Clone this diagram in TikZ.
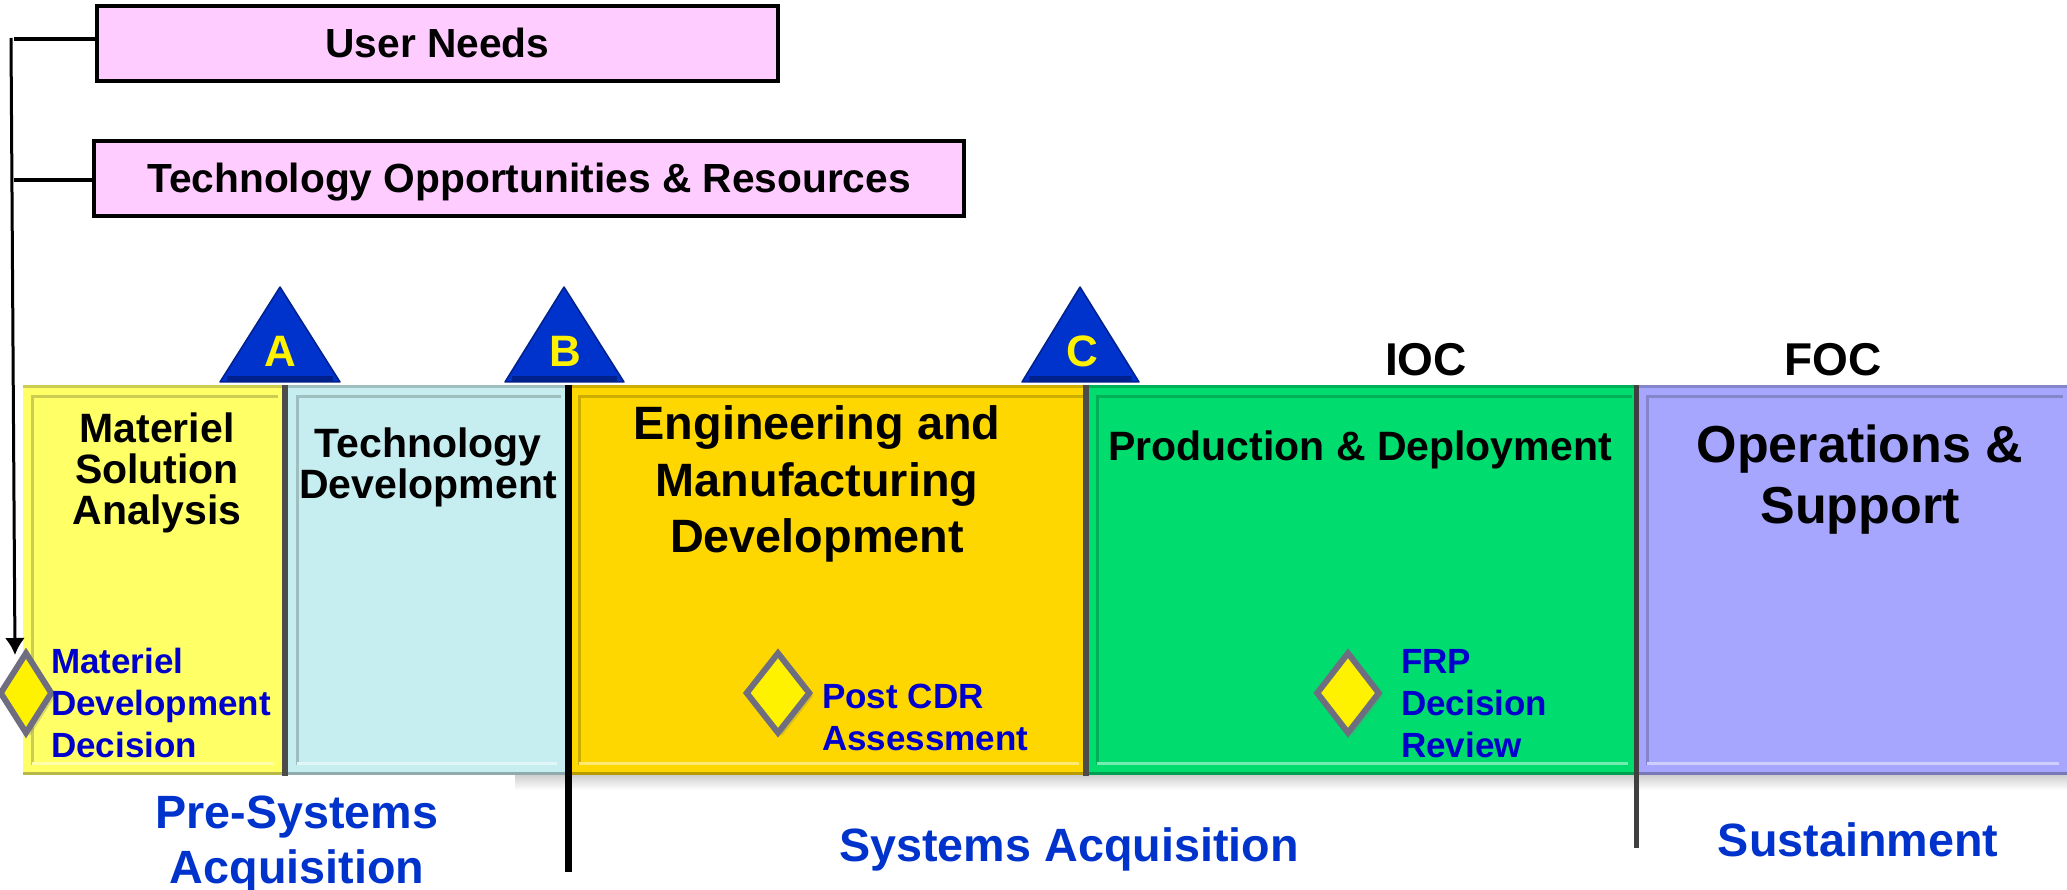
\documentclass[tikz,border=0pt]{standalone}
\usepackage{fontspec}
\setmainfont{Liberation Sans}
\usetikzlibrary{shapes.geometric,shadows,arrows.meta}
\definecolor{msaYellow}{HTML}{FFFF66}
\definecolor{tdCyan}{HTML}{C6EEF0}
\definecolor{emdGold}{HTML}{FFD700}
\definecolor{pdGreen}{HTML}{00DC6E}
\definecolor{osPurple}{HTML}{A6A6FF}
\definecolor{needPink}{HTML}{FFCCFF}
\definecolor{revBlue}{HTML}{0000CC}
\definecolor{phaseBlue}{HTML}{0033CC}
\definecolor{peakEdge}{HTML}{00208C}
\definecolor{gemEdge}{HTML}{6E6E80}
\tikzset{
    panel/.style={fill=#1,rectangle,inner sep=0pt,minimum height=388pt,
        path picture={
            \draw[#1!80!black,line width=3pt]
                ([xshift=9pt,yshift=9pt]path picture bounding box.south west) |-
                ([xshift=-4pt,yshift=-11pt]path picture bounding box.north east);
            \draw[#1!55!white,line width=3pt]
                ([xshift=9pt,yshift=11pt]path picture bounding box.south west) --
                ([xshift=-8pt,yshift=11pt]path picture bounding box.south east);
            \draw[#1!72!black,line width=5pt]
                (path picture bounding box.south west) --
                (path picture bounding box.south east);
            \draw[#1!80!black,line width=3pt]
                ([yshift=-1pt]path picture bounding box.north west) --
                ([yshift=-1pt]path picture bounding box.north east);}},
    need/.style={fill=needPink,draw=black,line width=4pt,rectangle,inner sep=0pt,minimum height=75pt,
        text height=29pt,text depth=0pt,font=\fontsize{40.7}{42}\selectfont\bfseries},
    title/.style={align=center,inner sep=0pt,font=\fontsize{#1}{#1}\selectfont\bfseries},
    review/.style={align=left,inner sep=0pt,text=revBlue,font=\fontsize{35}{42}\selectfont\bfseries},
    phase/.style={align=center,inner sep=0pt,text=phaseBlue,font=\fontsize{46.7}{55}\selectfont\bfseries},
    gem/.style={diamond,fill=yellow,draw=gemEdge,line width=6pt,inner sep=0pt,minimum height=82pt,
        drop shadow={shadow xshift=4pt,shadow yshift=-3pt,opacity=0.3}},
    letter/.style={inner sep=0pt,text=yellow,font=\fontsize{44}{44}\selectfont\bfseries},
    peak/.style={fill=phaseBlue,draw=peakEdge,line width=1.5pt,line join=round},
    gate/.style={line cap=butt,line width=#1},
    feed/.style={line width=4pt}
}
\begin{document}
\begin{tikzpicture}[x=1pt,y=-1pt]
    \useasboundingbox (0,0) rectangle (2067,890);

    \shade[top color=gray!45,bottom color=white] (515,772) rectangle (2067,790);

    \node[panel=msaYellow,minimum width=259pt] (msa) at (152.5,580) {};
    \node[panel=tdCyan,minimum width=277pt] (td) [right of=msa,node distance=274pt] {};
    \node[panel=emdGold,minimum width=517pt] (emd) [right of=td,node distance=402pt] {};
    \node[panel=pdGreen,minimum width=548pt] (pd) [right of=emd,node distance=533.5pt] {};
    \node[panel=osPurple,minimum width=429pt] (os) [right of=pd,node distance=490.5pt] {};

    \coordinate (a1) at (285,385);
    \coordinate (a2) at (285,776);
    \coordinate (b1) at (568.5,385);
    \coordinate (b2) at (568.5,872);
    \coordinate (c1) at (1086,385);
    \coordinate (c2) at (1086,776);
    \coordinate (d1) at (1636,385);
    \coordinate (d2) at (1636,848);
    \draw[gate=6pt,black!70] (a1) -- (a2);
    \draw[gate=7pt,black] (b1) -- (b2);
    \draw[gate=6pt,black!70] (c1) -- (c2);
    \draw[gate=5pt,black!75] (d1) -- (d2);

    \foreach \l/\t/\r in {220/280/340,505/564/624,1022/1080/1139} {
        \filldraw[peak] (\l,382) -- (\t,287) -- (\r,382) -- cycle;
        \draw[peakEdge,line width=5pt] (\l+7,379) -- (\r-7,379);
    }
    \node[letter] (ma) at (280,351) {A};
    \node[letter] (mb) at (565,351) {B};
    \node[letter] (mc) at (1082,351) {C};

    \node[title=46] (ioc) at (1426,360) {IOC};
    \node[title=46] (foc) at (1833,360) {FOC};

    \node[need,minimum width=681pt] (user) at (437.5,43.5) {User Needs};
    \node[need,minimum width=870pt] (tech) at (529,178.5) {Technology Opportunities \& Resources};

    \coordinate (top) at (11,38);
    \coordinate (bus) at (14,39);
    \coordinate (bus2) at (14,180);
    \node[gem,minimum width=53pt] (mdd) at (26,693) {};
    \node[gem,minimum width=65pt] (cdr) at (778,693) {};
    \node[gem,minimum width=64pt] (frp) at (1348,693) {};
    \coordinate (tip) at (15,655);

    \draw[feed] (user.west |- bus) -- (bus);
    \draw[feed] (tech.west |- bus2) -- (bus2);
    \draw[line width=3pt,-{Latex[length=17pt,width=20pt]}] (top) -- (tip);

    \node[title=41] (msat) at (157,473) {Materiel\\Solution\\Analysis};
    \node[title=41] (tdt) at (428,467) {Technology\\Development};
    \node[title=46.8] (emdt) at (817,484) {Engineering and\\[10pt]Manufacturing\\[10pt]Development};
    \node[title=41] (pdt) at (1360,450) {Production \& Deployment};
    \node[title=52] (ost) at (1860,480) {Operations \&\\[9pt]Support};

    \node[review,anchor=west] (mddt) at (51,703) {Materiel\\Development\\Decision};
    \node[review,anchor=west] (cdrt) at (822,717) {Post CDR\\Assessment};
    \node[review,anchor=west] (frpt) at (1401,703.5) {FRP\\Decision\\Review};

    \node[phase] (pre) at (297,844.5) {Pre-Systems\\Acquisition};
    \node[phase] (sys) at (1069,849) {Systems Acquisition};
    \node[phase] (sus) at (1858,840) {Sustainment};
\end{tikzpicture}
\end{document}
